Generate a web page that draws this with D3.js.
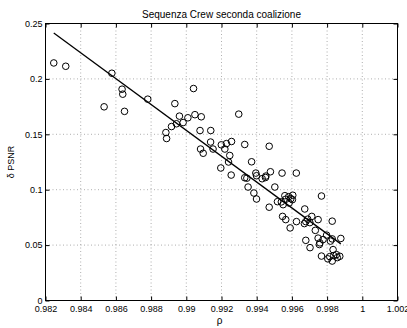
<html>
<script src='https://d3js.org/d3.v7.min.js'></script>
<style>
body {margin:0; background:white;}
text {font-family: 'Liberation Sans', Arial, sans-serif; fill: black;}
.grid line {stroke: #9a9a9a; stroke-dasharray: 1,2.5; stroke-width: 0.8;}
circle {fill: none; stroke: black; stroke-width: 1;}
</style>
<body onload='init()'>
<svg width=407 height=328></svg>
<script>
// rho (x) and delta PSNR (y)
var rho = [0.98247,0.98315,0.98577,0.98635,0.98639,0.98533,0.98649,0.98781,0.98935,0.99041,
  0.99298,0.98961,0.99009,0.99049,0.99085,0.98884,0.98888,0.98916,0.98944,0.98982,
  0.99078,0.99139,0.99138,0.99081,0.99096,0.99152,0.99199,0.99228,0.99257,0.99219,
  0.99247,0.99240,0.99196,0.99255,0.99332,0.99471,0.99371,0.99332,0.99344,0.99395,
  0.99399,0.99431,0.99452,0.99478,0.99544,0.99625,0.99351,0.99384,0.99399,0.99503,
  0.99471,0.99518,0.99560,0.99582,0.99605,0.99594,0.99565,0.99550,0.99584,0.99603,
  0.99768,0.99673,0.99547,0.99565,0.99590,0.99626,0.99671,0.99679,0.99690,0.99702,
  0.99713,0.99749,0.99733,0.99679,0.99703,0.99749,0.99759,0.99768,0.99777,0.99797,
  0.99829,0.99804,0.99819,0.99829,0.99834,0.99829,0.99853,0.99872,0.99878,0.99838,
  0.99858,0.99756,0.99815,0.99450,0.99540];
var dpsnr = [0.2144,0.2114,0.2051,0.1907,0.1862,0.1748,0.1707,0.1817,0.1777,0.1913,
  0.1682,0.1664,0.1649,0.1677,0.1658,0.1516,0.1462,0.1570,0.1595,0.1606,
  0.1534,0.1534,0.1430,0.1367,0.1329,0.1367,0.1405,0.1416,0.1435,0.1367,
  0.1309,0.1250,0.1196,0.1132,0.1408,0.1392,0.1252,0.1108,0.1104,0.1150,
  0.1126,0.1099,0.1123,0.1162,0.1150,0.1150,0.1024,0.0970,0.0916,0.1024,
  0.0842,0.0892,0.0946,0.0937,0.0950,0.0919,0.0914,0.0865,0.0880,0.0910,
  0.0943,0.0826,0.0759,0.0730,0.0655,0.0712,0.0694,0.0712,0.0734,0.0703,
  0.0759,0.0730,0.0633,0.0543,0.0477,0.0563,0.0520,0.0401,0.0550,0.0590,
  0.0716,0.0376,0.0536,0.0556,0.0459,0.0356,0.0414,0.0399,0.0560,0.0405,
  0.0387,0.0505,0.0396,0.1110,0.0890];
// linear fit drawn over the data range
var fitX = [0.98247, 0.99878];
var fitY = [0.2414, 0.0511];
var xTicks = [0.982,0.984,0.986,0.988,0.99,0.992,0.994,0.996,0.998,1,1.002];
var yTicks = [0,0.05,0.1,0.15,0.2,0.25];

function init() {
var L = 45.5, R = 397.5, T = 23.5, B = 300.5;
var svg = d3.select('svg');
var x = d3.scaleLinear([0.982,1.002],[L,R]);
var y = d3.scaleLinear([0,0.25],[B,T]);

// dotted grid
var g = svg.append('g').attr('class','grid');
g.selectAll('.gx').data(xTicks.slice(1,-1)).enter().append('line')
  .attr('x1',d=>x(d)).attr('x2',d=>x(d)).attr('y1',T).attr('y2',B);
g.selectAll('.gy').data(yTicks.slice(1,-1)).enter().append('line')
  .attr('y1',d=>y(d)).attr('y2',d=>y(d)).attr('x1',L).attr('x2',R);

var fmt = function(d){ return d3.format('~g')(d); };

svg.append('g').attr('transform','translate(0,'+B+')')
  .call(d3.axisBottom(x).tickValues(xTicks).tickFormat(fmt).tickSizeInner(-4).tickSizeOuter(0).tickPadding(5));
svg.append('g').attr('transform','translate(0,'+T+')')
  .call(d3.axisTop(x).tickValues(xTicks).tickFormat('').tickSizeInner(-4).tickSizeOuter(0));
svg.append('g').attr('transform','translate('+L+',0)')
  .call(d3.axisLeft(y).tickValues(yTicks).tickFormat(fmt).tickSizeInner(-4).tickSizeOuter(0).tickPadding(3));
svg.append('g').attr('transform','translate('+R+',0)')
  .call(d3.axisRight(y).tickValues(yTicks).tickFormat('').tickSizeInner(-4).tickSizeOuter(0));

svg.selectAll('.domain').remove();
svg.selectAll('.tick line').attr('stroke','black');
svg.selectAll('.tick text').style('font-size','9px').style('font-family',"'Liberation Sans', Arial, sans-serif").attr('fill','black');

svg.append('rect').attr('x',L).attr('y',T).attr('width',R-L).attr('height',B-T)
  .attr('fill','none').attr('stroke','black').attr('stroke-width',1);

// points
svg.append('g').selectAll('circle').data(rho).enter().append('circle')
  .attr('cx',(d,i)=>x(d)).attr('cy',(d,i)=>y(dpsnr[i])).attr('r',3.3);

// fit line
svg.append('path').datum(fitX)
  .attr('d', d3.line().x(d=>x(d)).y((d,i)=>y(fitY[i])))
  .attr('fill','none').attr('stroke','black').attr('stroke-width',1.3);

svg.append('text').attr('x',(L+R)/2).attr('y',18).attr('text-anchor','middle')
  .style('font-size','10px').text('Sequenza Crew seconda coalizione');
svg.append('text').attr('x',(L+R)/2 - 2).attr('y',324).attr('text-anchor','middle')
  .style('font-size','10px').text('ρ');
svg.append('text').attr('transform','translate(14,162) rotate(-90)').attr('text-anchor','middle')
  .style('font-size','9px').text('δ PSNR');
}
</script>
</body>
</html>
